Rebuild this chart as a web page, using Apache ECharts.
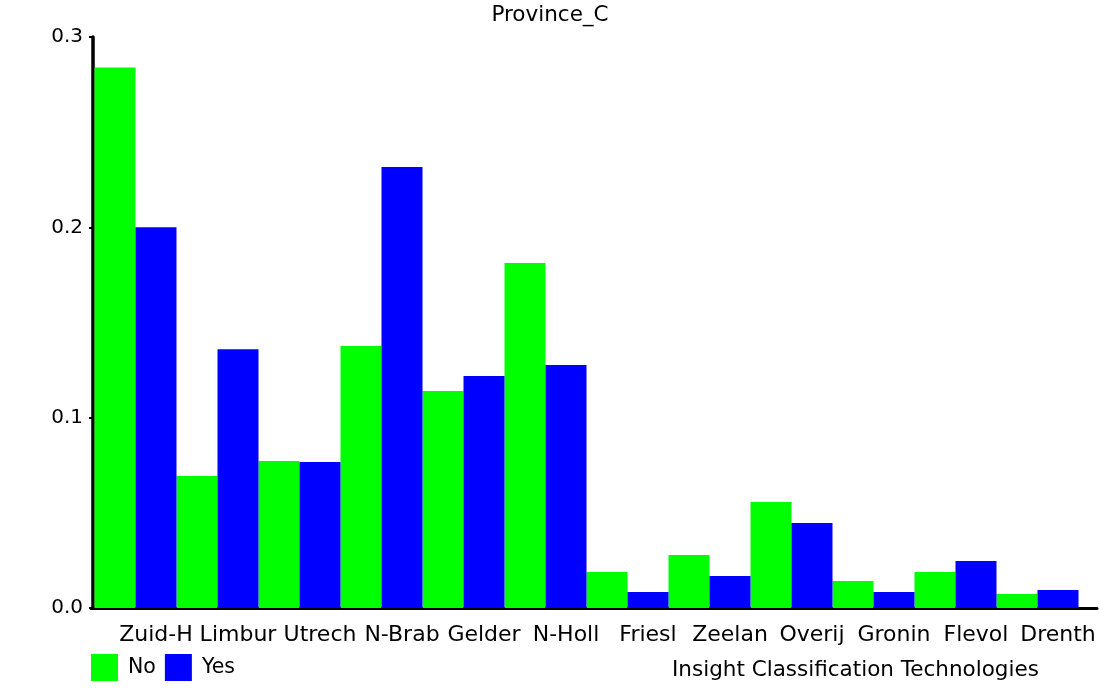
<!DOCTYPE html>
<html>
<head>
<meta charset="utf-8">
<script src="https://cdn.jsdelivr.net/npm/echarts@6/dist/echarts.min.js"></script>
<style>html,body{margin:0;padding:0;background:#fff;}#c{width:1100px;height:700px;}</style>
</head>
<body>
<div id="c"></div>
<script>
var categories = ['Zuid-H','Limbur','Utrech','N-Brab','Gelder','N-Holl','Friesl','Zeelan','Overij','Gronin','Flevol','Drenth'];
var noValues  = [0.284, 0.0694, 0.0772, 0.1377, 0.114, 0.1813, 0.0189, 0.0279, 0.0557, 0.0142, 0.0189, 0.0074];
var yesValues = [0.200, 0.136, 0.0767, 0.2317, 0.1219, 0.1277, 0.0084, 0.0168, 0.0447, 0.0084, 0.0247, 0.0095];
var yTicks = [0.0, 0.1, 0.2, 0.3];

var FONT = 'DejaVu Sans';
var chart = echarts.init(document.getElementById('c'), null, {renderer: 'canvas'});
chart.setOption({
  animation: false,
  backgroundColor: '#ffffff',
  textStyle: {fontFamily: FONT, color: '#000'},
  title: [
    {text: 'Province_C', left: 'center', top: 4, padding: 0,
     textStyle: {fontFamily: FONT, fontSize: 21.5, fontWeight: 'normal', color: '#000'}},
    {text: 'Insight Classification Technologies', left: 672, top: 659, padding: 0,
     textStyle: {fontFamily: FONT, fontSize: 21.5, fontWeight: 'normal', color: '#000'}}
  ],
  legend: {
    left: 91, top: 654, padding: 0,
    icon: 'rect', itemWidth: 27, itemHeight: 27, itemGap: 9,
    textStyle: {fontFamily: FONT, fontSize: 20.5, color: '#000', padding: [10,0,0,5]},
    data: ['No', 'Yes']
  },
  grid: [
    {left: 94.5, width: 984, top: 37, bottom: 92, containLabel: false},
    {left: 91, right: 3, top: 37, bottom: 92, containLabel: false}
  ],
  xAxis: [
    {type: 'category', gridIndex: 0, data: categories,
     axisLine: {show: false}, axisTick: {show: false},
     axisLabel: {fontFamily: FONT, fontSize: 22, color: '#000', margin: 16, padding: [0,0,0,41], interval: 0}},
    {type: 'value', gridIndex: 1, min: 0, max: 1,
     axisLine: {show: true, onZero: false, lineStyle: {color: '#000', width: 3}},
     axisTick: {show: false}, axisLabel: {show: false}, splitLine: {show: false}}
  ],
  yAxis: [
    {type: 'value', gridIndex: 0, min: 0, max: 0.3, interval: 0.1, offset: 1.5,
     axisLine: {show: true, lineStyle: {color: '#000', width: 3.5}},
     axisTick: {show: true, length: 4, lineStyle: {color: '#000', width: 2}},
     axisLabel: {fontFamily: FONT, fontSize: 20, color: '#000', margin: 10,
       formatter: function (v) { return v.toFixed(1); }},
     splitLine: {show: false}},
    {type: 'value', gridIndex: 1, show: false, min: 0, max: 1}
  ],
  series: [
    {name: 'No', type: 'bar', data: noValues, barGap: '0%', barCategoryGap: '0%',
     itemStyle: {color: '#00ff00'}},
    {name: 'Yes', type: 'bar', data: yesValues, barGap: '0%', barCategoryGap: '0%',
     itemStyle: {color: '#0000ff'}}
  ]
});
</script>
</body>
</html>
